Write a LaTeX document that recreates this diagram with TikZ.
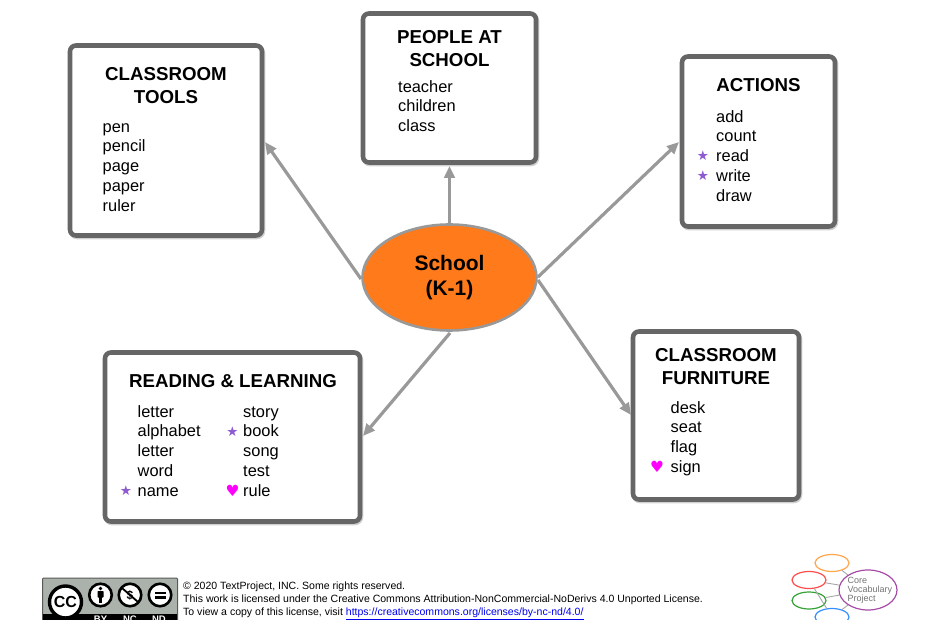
\documentclass[tikz,border=0pt]{standalone}
\usepackage{fontspec}
\setmainfont{Liberation Sans}
\newfontfamily\symfont{DejaVu Sans}
\usetikzlibrary{shapes.geometric,arrows.meta,calc}
\definecolor{boxgray}{HTML}{666666}
\definecolor{linegray}{HTML}{999999}
\definecolor{starpurple}{HTML}{8E5BD0}
\definecolor{heartpink}{HTML}{FF00FF}
\definecolor{orangefill}{HTML}{FF7A1A}
\definecolor{ccbg}{HTML}{AAB2AB}
\definecolor{linkblue}{HTML}{0000EE}
\newcommand{\itemstart}{\rule{0pt}{14pt}}
\tikzset{
  x=1pt,y=-1pt,
  wbox/.style={draw=boxgray,line width=4.6pt,rounded corners=6pt,fill=white},
  shadowbox/.style={draw=black!18,line width=4.6pt,rounded corners=6pt},
  ttl/.style={font=\fontsize{18.7}{23}\selectfont\bfseries,align=center,inner sep=0pt,anchor=north},
  items/.style={font=\fontsize{16.4}{19.75}\selectfont,align=left,inner sep=0pt,anchor=north west},
  conn/.style={draw=linegray,line width=3.2pt,-{Triangle[length=12pt,width=10.5pt]}},
  star/.style={inner sep=0pt,text=starpurple,font=\symfont\fontsize{13.5}{13.5}\selectfont},
  heart/.style={inner sep=0pt,text=heartpink,font=\symfont\fontsize{15.5}{15.5}\selectfont},
  foot/.style={font=\fontsize{10.53}{13}\selectfont,align=left,inner sep=0pt,anchor=north west},
  logoell/.style={ellipse,minimum width=34pt,minimum height=17pt,inner sep=0pt,fill=white,line width=1.2pt},
  cclabel/.style={inner sep=0pt,font=\fontsize{9.5}{10}\selectfont\bfseries,text=white},
  ccring/.style={circle,draw=black,line width=2.6pt,fill=white,inner sep=0pt},
}
\begin{document}
\begin{tikzpicture}
\useasboundingbox (0,0) rectangle (930,620);
\clip (0,0) rectangle (930,620);
% shadows
\draw[shadowbox] (71,47) rectangle (263,237);
\draw[shadowbox] (364,15) rectangle (537,164);
\draw[shadowbox] (683,58) rectangle (836,228);
\draw[shadowbox] (106,354) rectangle (361,523);
\draw[shadowbox] (634,333) rectangle (800,501);
% boxes
\node[wbox,minimum width=192pt,minimum height=190pt,inner sep=0pt] (tools) at (166,140.5) {};
\node[wbox,minimum width=173pt,minimum height=149pt,inner sep=0pt] (people) at (449.5,88) {};
\node[wbox,minimum width=153pt,minimum height=170pt,inner sep=0pt] (actions) at (758.5,141.5) {};
\node[wbox,minimum width=255pt,minimum height=169pt,inner sep=0pt] (reading) at (232.5,437) {};
\node[wbox,minimum width=166pt,minimum height=168pt,inner sep=0pt] (furniture) at (716,415.5) {};
% arrow tips
\coordinate (tipT) at (265,142);
\coordinate (tipP) at (449.5,166);
\coordinate (tipA) at (679,142);
\coordinate (tipR) at (363,436);
\coordinate (tipF) at (631,415);
\coordinate (fromT) at (361,279);
\coordinate (fromP) at (449.5,226);
\coordinate (fromA) at (538,277);
\coordinate (fromF) at (538,280);
\coordinate (fromR) at (450,333);
\draw[conn] (fromT) -- (tipT);
\draw[conn] (fromP) -- (tipP);
\draw[conn] (fromA) -- (tipA);
\draw[conn] (fromF) -- (tipF);
\draw[conn] (fromR) -- (tipR);
% centre
\node[ellipse,draw=linegray,line width=2.6pt,fill=orangefill,minimum width=174pt,minimum height=106pt,inner sep=0pt,align=center,font=\fontsize{21}{25.5}\selectfont\bfseries] (school) at (449.5,277.5) {School\\(K-1)};
% tools
\node[ttl] (ttools) at (166,67) {CLASSROOM\\TOOLS};
\node[items] (itools) at (102.5,118) {\itemstart pen\\pencil\\page\\paper\\ruler};
% people
\node[ttl] (tpeople) at (449.5,30) {PEOPLE AT\\SCHOOL};
\node[items] (ipeople) at (398,78) {\itemstart teacher\\children\\class};
% actions
\node[ttl] (tactions) at (758.5,78) {ACTIONS};
\node[items] (iactions) at (716,108) {\itemstart add\\count\\read\\write\\draw};
\node[star] (s1) at (703,156) {★};
\node[star] (s2) at (703,175.5) {★};
% reading
\node[ttl] (treading) at (233,374.5) {READING \& LEARNING};
\node[items] (ir1) at (137.5,403) {\itemstart letter\\alphabet\\letter\\word\\name};
\node[items] (ir2) at (243,403) {\itemstart story\\book\\song\\test\\rule};
\node[star] (s3) at (126,491) {★};
\node[star] (s4) at (232.5,431.5) {★};
\node[heart] (h1) at (232.5,490.5) {♥};
% furniture
\node[ttl] (tfurn) at (716,348) {CLASSROOM\\FURNITURE};
\node[items] (ifurn) at (670.5,399) {\itemstart desk\\seat\\flag\\sign};
\node[heart] (h2) at (657,467) {♥};
% cc badge
\draw[fill=ccbg,draw=black!65,line width=1pt,rounded corners=1pt] (42.5,578) rectangle (177.5,625);
\fill[black] (43,614) rectangle (177,625);
\node[ccring,minimum size=32pt,line width=3.4pt,font=\fontsize{16}{16}\selectfont\bfseries] (cc) at (65.5,602) {CC};
\node[ccring,minimum size=22.5pt] (by) at (100.5,595) {};
\fill ($(by.center)+(0,-6.5)$) circle (1.9pt);
\fill[rounded corners=.6pt] (97.5,591) rectangle (103.5,597.5);
\fill (99,597) rectangle (102,603);
\node[ccring,minimum size=22.5pt,font=\fontsize{12}{12}\selectfont\bfseries] (nc) at (130,595) {\$};
\draw[line width=1.8pt] ($(nc.south east)+(-1,-2)$) -- ($(nc.north west)+(1,2)$);
\node[ccring,minimum size=22.5pt] (nd) at (160,595) {};
\fill ($(nd.center)+(-5.5,-3.5)$) rectangle ($(nd.center)+(5.5,-0.8)$);
\fill ($(nd.center)+(-5.5,0.8)$) rectangle ($(nd.center)+(5.5,3.5)$);
\node[cclabel] (lby) at (100.5,619) {BY};
\node[cclabel] (lnc) at (130,619) {NC};
\node[cclabel] (lnd) at (159,619) {ND};
% footer text
\node[foot] (ftext) at (183,581.5) {© 2020 TextProject, INC. Some rights reserved.\\This work is licensed under the Creative Commons Attribution-NonCommercial-NoDerivs 4.0 Unported License.\\To view a copy of this license, visit \textcolor{linkblue}{\underline{https://creativecommons.org/licenses/by-nc-nd/4.0/}}};
% logo
\node[logoell,draw=orange!70!white] (lo) at (832,563) {};
\node[logoell,draw=red!70!white] (lr) at (809,580) {};
\node[logoell,draw=green!55!black!80] (lg) at (809,600.5) {};
\node[logoell,draw=blue!55!cyan!80] (lb) at (832,617) {};
\node[ellipse,draw=violet!70!white,line width=1.2pt,minimum width=58pt,minimum height=40pt,inner sep=0pt] (lp) at (868,590) {};
\draw[black!35,line width=.9pt] (lo) -- (lp) (lr) -- (lp) (lg) -- (lp) (lb) -- (lp) (lr) -- (lb);
\node[inner sep=0pt,anchor=west,align=left,text=black!55,font=\fontsize{9}{8.8}\selectfont] (lt) at (847.5,590.5) {Core\\Vocabulary\\Project};
\end{tikzpicture}
\end{document}
